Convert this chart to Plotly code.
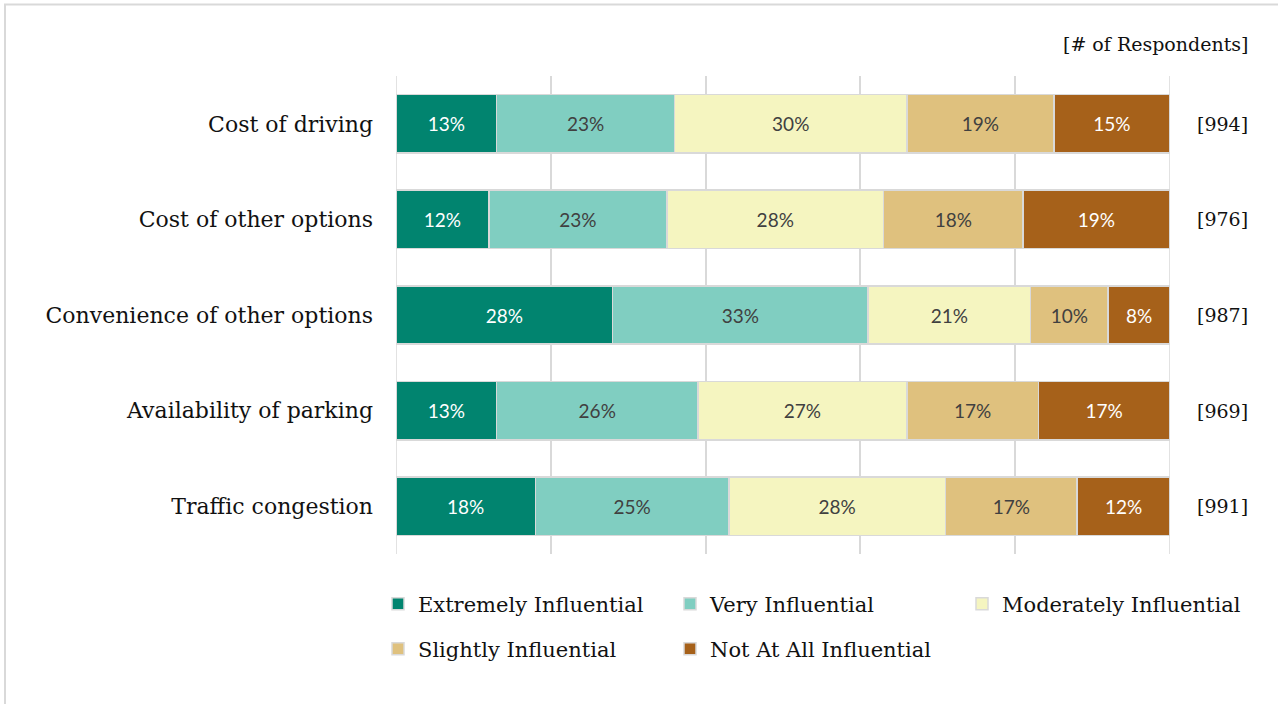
import plotly.graph_objects as go

categories = ["Cost of driving", "Cost of other options", "Convenience of other options",
              "Availability of parking", "Traffic congestion"]
respondents = [994, 976, 987, 969, 991]

series_names = ["Extremely Influential", "Very Influential", "Moderately Influential",
                "Slightly Influential", "Not At All Influential"]
extremely = [13, 12, 28, 13, 18]
very = [23, 23, 33, 26, 25]
moderately = [30, 28, 21, 27, 28]
slightly = [19, 18, 10, 17, 17]
not_at_all = [15, 19, 8, 17, 12]

colors = ["#01846F", "#80CEC1", "#F5F5C0", "#DFC17E", "#A6611A"]
text_colors = ["#FFFFFF", "#404040", "#404040", "#404040", "#FFFFFF"]
legend_ids = ["legend", "legend", "legend", "legend2", "legend2"]

SERIF = "DejaVu Serif"
SANS = "Lato"

fig = go.Figure()
for name, vals, col, tcol, lg in zip(series_names,
                                     [extremely, very, moderately, slightly, not_at_all],
                                     colors, text_colors, legend_ids):
    fig.add_trace(go.Bar(
        y=categories, x=vals, orientation="h", name=name,
        marker=dict(color=col, line=dict(color="#D9D9D9", width=1.5)),
        text=[f"{v}%" for v in vals], textposition="inside",
        insidetextanchor="middle", constraintext="none",
        textfont=dict(family=SANS, size=19, color=tcol),
        legend=lg, hoverinfo="skip",
    ))

W, H = 1278, 704
L, R, T, B = 396, 108, 76, 150
pw, ph = W - L - R, H - T - B

def px_x(x):
    return (x - L) / pw

def px_y(y):
    return (H - B - y) / ph

for cat, n in zip(categories, respondents):
    fig.add_annotation(x=px_x(1222), xref="paper", y=cat, yref="y",
                       text=f"[{n}]", showarrow=False,
                       font=dict(family=SERIF, size=19, color="#111111"),
                       xanchor="center", yanchor="middle")

fig.add_annotation(x=px_x(1250), xref="paper", y=px_y(44), yref="paper",
                   text="[# of Respondents]", showarrow=False,
                   font=dict(family=SERIF, size=19, color="#111111"),
                   xanchor="right", yanchor="middle")

fig.add_shape(type="rect", xref="paper", yref="paper",
              x0=px_x(5), x1=px_x(1300), y0=px_y(730), y1=px_y(4.5),
              line=dict(color="#D9D9D9", width=2), fillcolor="rgba(0,0,0,0)", layer="below")

# edge gridlines at 0% and 100%
for xv in (0, 100):
    fig.add_shape(type="line", xref="x", yref="paper", x0=xv, x1=xv, y0=0, y1=1,
                  line=dict(color="#D9D9D9", width=1.5), layer="below")

legend_common = dict(orientation="h", xanchor="left", yanchor="middle",
                     font=dict(family=SERIF, size=21, color="#111111"),
                     entrywidthmode="pixels", entrywidth=247,
                     bgcolor="rgba(0,0,0,0)", traceorder="normal")

fig.update_layout(
    width=W, height=H,
    margin=dict(l=L, r=R, t=T, b=B, pad=0),
    barmode="stack", bargap=0.39,
    plot_bgcolor="white", paper_bgcolor="white",
    xaxis=dict(range=[0, 100], dtick=20, showticklabels=False, showgrid=True,
               gridcolor="#D9D9D9", gridwidth=1.5, zeroline=False, fixedrange=True),
    yaxis=dict(categoryorder="array", categoryarray=categories, autorange="reversed",
               tickfont=dict(family=SERIF, size=22, color="#111111"),
               ticks="", ticklabelstandoff=22, showgrid=False, zeroline=False,
               fixedrange=True),
    legend=dict(x=px_x(378), y=px_y(604), **legend_common),
    legend2=dict(x=px_x(378), y=px_y(649), **legend_common),
)

fig.write_html("out.html", config={"displayModeBar": False},
               post_script="document.body.style.margin='0';document.body.style.overflow='hidden';")
